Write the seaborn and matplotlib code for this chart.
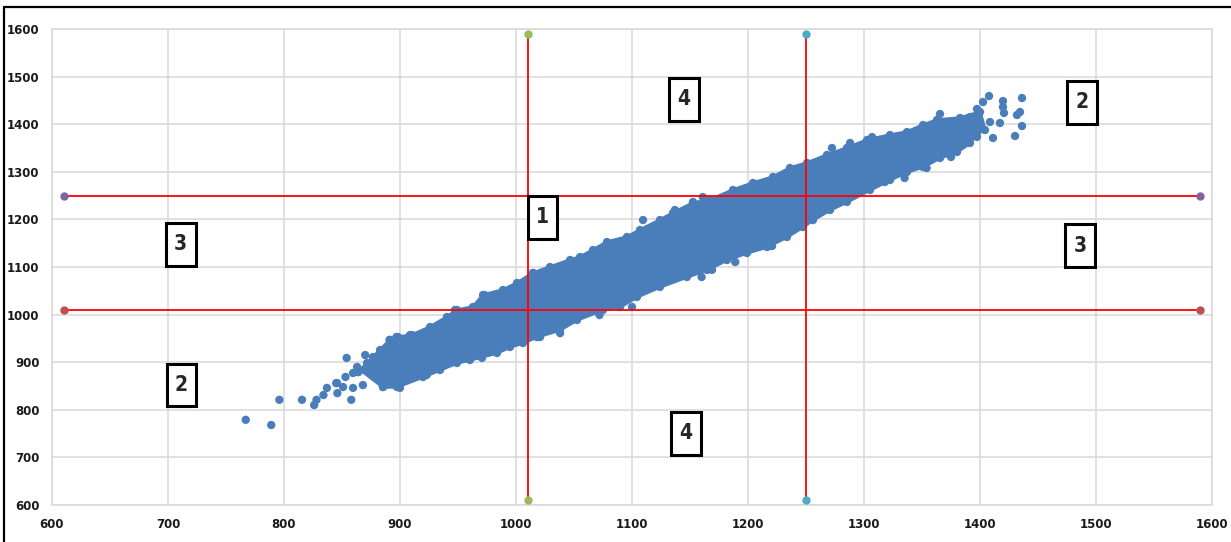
import matplotlib
matplotlib.use("Agg")
import matplotlib.pyplot as plt
from matplotlib.patches import Rectangle
from matplotlib.lines import Line2D
import seaborn as sns
import pandas as pd

# ---------------- data ----------------
# dense core of the cloud: left tip, upper and lower envelope
core_tip_x, core_tip_y = 866.0, 884.0
core_upper_x = [882.8, 891.4, 898.3, 910.3, 925.9, 940.5, 949.1, 962.9, 971.6, 988.8,
                1000.9, 1014.7, 1029.3, 1046.6, 1055.2, 1066.4, 1078.4, 1095.7, 1106.9,
                1124.1, 1135.3, 1152.6, 1167.2, 1187.1, 1204.3, 1221.6, 1236.2, 1250.9,
                1268.1, 1285.3, 1302.6, 1322.4, 1337.1, 1350.9, 1362.9, 1382.8, 1400.0]
core_upper_y = [925.6, 946.6, 952.9, 957.1, 973.9, 995.0, 1009.7, 1016.0, 1041.2, 1051.7,
                1066.4, 1087.4, 1100.0, 1114.7, 1121.0, 1135.7, 1152.5, 1163.0, 1177.7,
                1198.7, 1213.4, 1234.5, 1240.8, 1261.8, 1276.5, 1289.1, 1308.0, 1318.5,
                1335.3, 1350.0, 1366.8, 1377.3, 1383.6, 1398.3, 1408.8, 1413.0, 1425.6]
core_lower_x = [885.3, 897.4, 919.8, 934.5, 949.1, 960.3, 983.6, 994.8, 1006.0, 1018.1,
                1037.9, 1052.6, 1075.0, 1089.7, 1104.3, 1124.1, 1147.4, 1164.7, 1181.9,
                1199.1, 1216.4, 1233.6, 1247.4, 1256.0, 1270.7, 1285.3, 1305.2, 1322.4,
                1337.1, 1350.9, 1365.5, 1380.2, 1391.4, 1397.4, 1404.3]
core_lower_y = [847.9, 847.9, 868.9, 883.6, 898.3, 904.6, 919.3, 931.9, 940.3, 952.9,
                967.6, 988.7, 1009.7, 1016.0, 1037.0, 1058.0, 1079.0, 1093.7, 1114.7,
                1129.4, 1142.0, 1163.0, 1184.0, 1198.7, 1219.7, 1236.6, 1261.8, 1282.8,
                1299.6, 1310.1, 1329.0, 1341.6, 1360.5, 1381.5, 1387.8]

# individual points visible outside / at the edge of the core
pts_x = [767, 789, 796, 815.5, 826, 828, 834, 837, 845, 846, 853, 854, 858, 859.5,
         863, 864, 870, 868, 877, 885, 891, 897, 900, 909, 908.6, 923, 947.4, 973,
         970.7, 1014.7, 1020.7, 1038, 1072, 1100, 1109.5, 1137, 1152.6, 1161, 1160,
         1169, 1189, 1220.7, 1272.4, 1288, 1307, 1318, 1335, 1354,
         1365.5, 1391.4, 1397.4, 1402.6, 1407.8, 1419.8, 1419.8, 1420.7, 1436.2,
         1434.5, 1431.9, 1436.2, 1430.2, 1411.2, 1417.2, 1408.6, 1397.4, 1375.0,
         845.7, 850.9, 859.5, 871.6, 876.7, 880.2, 885.3]
pts_y = [779, 768, 821, 821, 810, 821, 831, 846, 856, 835, 869, 909, 821, 846,
         890, 879, 915, 852, 905, 919, 947, 953, 846, 953, 957, 873, 1009.7, 1041,
         909, 1087.4, 952.9, 961, 999, 1016, 1198.7, 1219.7, 1236.6, 1247, 1079,
         1094, 1110.5, 1144, 1350, 1360.5, 1373, 1278.6, 1287, 1308,
         1421.4, 1415.1, 1432, 1446.6, 1459.2, 1448.7, 1436.1, 1423.5, 1455,
         1425.6, 1419.3, 1396.2, 1375.2, 1371, 1402.5, 1404.6, 1373.1, 1331.1,
         856.3, 847.9, 877.3, 898.3, 910.9, 868.9, 847.9]

# threshold lines
h_levels = [1250, 1010]
v_levels = [1010, 1250]
line_start, line_end = 610, 1590
h_dot_colors = ["#8064A2", "#C0504D"]
v_dot_colors = ["#9BBB59", "#4BACC6"]

# region labels
label_text = ["3", "1", "4", "2", "3", "2", "4"]
label_x = [711, 1022.8, 1144.8, 1487.9, 1486.2, 711.6, 1146.6]
label_y = [1148, 1204, 1451.9, 1445.6, 1145, 852, 751]

ticks = [600, 700, 800, 900, 1000, 1100, 1200, 1300, 1400, 1500, 1600]

# ---------------- drawing ----------------
sns.set_theme(style="whitegrid")
plt.rcParams["font.family"] = ["Liberation Sans Narrow", "DejaVu Sans"]

fig = plt.figure(figsize=(12.31, 5.42), dpi=100)
ax = fig.add_axes([52 / 1231, 37 / 542, 1160 / 1231, 476 / 542])
ax.set_facecolor("white")

blue = "#4A7EBB"

# dense core
poly_x = [core_tip_x] + core_upper_x + core_lower_x[::-1]
poly_y = [core_tip_y] + core_upper_y + core_lower_y[::-1]
ax.fill(poly_x, poly_y, facecolor=blue, edgecolor=blue, lw=2.5,
        joinstyle="round", zorder=2)

edge = pd.DataFrame({
    "x": core_upper_x + core_lower_x + pts_x,
    "y": core_upper_y + core_lower_y + pts_y,
})
sns.scatterplot(data=edge, x="x", y="y", ax=ax, color=blue, s=36,
                edgecolor="none", linewidth=0, zorder=3)

# red threshold lines with coloured end dots
for lvl, c in zip(h_levels, h_dot_colors):
    ax.plot([line_start, line_end], [lvl, lvl], color="#FF0000", lw=1.3, zorder=4)
    ax.plot([line_start, line_end], [lvl, lvl], ls="none", marker="o",
            ms=5, color=c, zorder=5)
for lvl, c in zip(v_levels, v_dot_colors):
    ax.plot([lvl, lvl], [line_start, line_end], color="#FF0000", lw=1.3, zorder=4)
    ax.plot([lvl, lvl], [line_start, line_end], ls="none", marker="o",
            ms=5, color=c, zorder=5)

# boxed region labels
bw, bh = 25.5, 90
for t, x, y in zip(label_text, label_x, label_y):
    ax.add_patch(Rectangle((x - bw / 2, y - bh / 2), bw, bh, facecolor="white",
                           edgecolor="black", lw=2.2, zorder=6))
    ax.text(x, y, t, ha="center", va="center", fontsize=15, fontweight="bold",
            family=["DejaVu Sans"], fontstretch="condensed", zorder=7)

ax.set_xlim(600, 1600)
ax.set_ylim(600, 1600)
ax.set_xticks(ticks)
ax.set_yticks(ticks)
ax.set_xticklabels([str(t) for t in ticks])
ax.set_yticklabels([str(t) for t in ticks])
ax.set_xlabel("")
ax.set_ylabel("")
ax.grid(True, color="#D9D9D9", lw=1.1)
for sp in ax.spines.values():
    sp.set_color("#D9D9D9")
    sp.set_linewidth(1.1)
ax.tick_params(axis="both", length=0, labelsize=8.5, colors="#1a1a1a", pad=9)
for lab in ax.get_xticklabels() + ax.get_yticklabels():
    lab.set_fontweight("bold")

# outer frame (left and top edges visible)
fig.add_artist(Line2D([4 / 1231, 4 / 1231], [0, 1 - 7 / 542], color="black",
                      lw=1.6, transform=fig.transFigure))
fig.add_artist(Line2D([4 / 1231, 1], [1 - 7 / 542, 1 - 7 / 542], color="black",
                      lw=1.6, transform=fig.transFigure))

fig.savefig("out.png", dpi=100, facecolor="white")
